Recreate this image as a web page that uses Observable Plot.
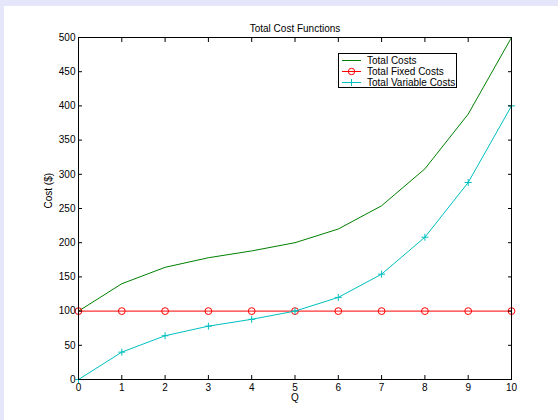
<!DOCTYPE html>
<html>
<head>
<meta charset="utf-8">
<script src="https://cdn.jsdelivr.net/npm/d3@7"></script>
<script src="https://cdn.jsdelivr.net/npm/@observablehq/plot@0.6"></script>
<style>
  html, body { margin: 0; padding: 0; }
  body { width: 558px; height: 420px; background: #e6e6fa; position: relative; overflow: hidden; font-family: "Liberation Sans", Arial, sans-serif; }
  #paper { position: absolute; left: 4px; top: 6px; width: 554px; height: 414px; background: #ffffff; }
  #chart { position: absolute; left: 0; top: 0; }
  #legend { position: absolute; left: 338px; top: 53px; width: 117px; height: 33px; border: 1px solid #000; background: #fff; font-size: 10px; color: #000; }
  .row { position: absolute; left: 0; height: 11px; line-height: 11px; }
  .row svg { position: absolute; left: 3px; top: 0; }
  .row span { position: absolute; left: 28px; top: 0; white-space: nowrap; }
</style>
</head>
<body>
<div id="paper"></div>
<div id="chart"></div>
<div id="legend"></div>
<script>
const quantity = [0, 1, 2, 3, 4, 5, 6, 7, 8, 9, 10];
const totalCosts = [100, 140, 164, 178, 188, 200, 220, 254, 308, 388, 500];
const totalFixedCosts = [100, 100, 100, 100, 100, 100, 100, 100, 100, 100, 100];
const totalVariableCosts = [0, 40, 64, 78, 88, 100, 120, 154, 208, 288, 400];
const xTicks = [0, 1, 2, 3, 4, 5, 6, 7, 8, 9, 10];
const yTicks = [0, 50, 100, 150, 200, 250, 300, 350, 400, 450, 500];
const seriesNames = ["Total Costs", "Total Fixed Costs", "Total Variable Costs"];
const seriesColors = ["#008000", "#ff0000", "#00bfbf"];

const tc = quantity.map((q, i) => ({q, v: totalCosts[i]}));
const tfc = quantity.map((q, i) => ({q, v: totalFixedCosts[i]}));
const tvc = quantity.map((q, i) => ({q, v: totalVariableCosts[i]}));

const font = "Liberation Sans, Arial, sans-serif";

const chart = Plot.plot({
  width: 558,
  height: 420,
  marginLeft: 78,
  marginRight: 47,
  marginTop: 37,
  marginBottom: 41,
  style: { fontFamily: font, fontSize: "10px", background: "transparent", color: "#000" },
  x: { domain: [0, 10] },
  y: { domain: [0, 500] },
  marks: [
    Plot.line(tc, { x: "q", y: "v", stroke: seriesColors[0], strokeWidth: 1 }),
    Plot.line(tfc, { x: "q", y: "v", stroke: seriesColors[1], strokeWidth: 1 }),
    Plot.dot(tfc, { x: "q", y: "v", stroke: seriesColors[1], r: 3.4, strokeWidth: 1, fill: "none" }),
    Plot.line(tvc, { x: "q", y: "v", stroke: seriesColors[2], strokeWidth: 1 }),
    Plot.dot(tvc, { x: "q", y: "v", stroke: seriesColors[2], symbol: "plus", r: 2.4, strokeWidth: 1 }),
    Plot.frame({ stroke: "#000", strokeWidth: 1 }),
    Plot.axisX(xTicks, { anchor: "bottom", tickSize: -4, tickPadding: 8, label: null, fill: "#000", stroke: "#000" }),
    Plot.axisX(xTicks, { anchor: "top", tickSize: -4, tickFormat: () => "", label: null, stroke: "#000" }),
    Plot.axisY(yTicks, { anchor: "left", tickSize: -4, tickPadding: 7, label: null, fill: "#000", stroke: "#000" }),
    Plot.axisY(yTicks, { anchor: "right", tickSize: -4, tickFormat: () => "", label: null, stroke: "#000" }),
    Plot.text(["Total Cost Functions"], { frameAnchor: "top", dy: -13, fontSize: 10, fill: "#000" }),
    Plot.text(["Q"], { frameAnchor: "bottom", dy: 21, fontSize: 10, fill: "#000" }),
    Plot.text(["Cost ($)"], { frameAnchor: "left", dx: -30, rotate: -90, fontSize: 10, fill: "#000" })
  ]
});
document.getElementById("chart").appendChild(chart);

// legend
const legend = d3.select("#legend");
seriesNames.forEach((name, i) => {
  const row = legend.append("div").attr("class", "row").style("top", (1 + i * 11) + "px").style("width", "117px");
  const svg = row.append("svg").attr("width", 22).attr("height", 11);
  svg.append("line").attr("x1", 0).attr("x2", 19).attr("y1", 5.5).attr("y2", 5.5).attr("stroke", seriesColors[i]).attr("stroke-width", 1);
  if (i === 1) svg.append("circle").attr("cx", 9.5).attr("cy", 5.5).attr("r", 3.2).attr("fill", "none").attr("stroke", seriesColors[i]);
  if (i === 2) svg.append("path").attr("d", "M6,5.5H13M9.5,2V9").attr("stroke", seriesColors[i]).attr("fill", "none");
  row.append("span").text(name);
});
</script>
</body>
</html>
